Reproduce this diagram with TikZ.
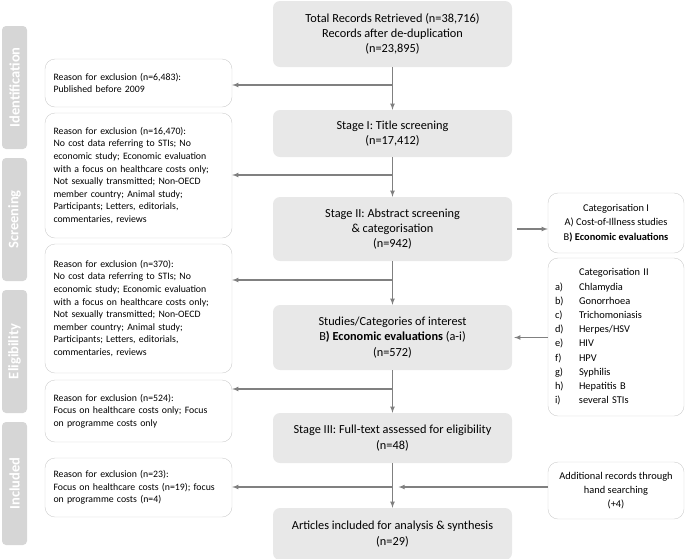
\documentclass[tikz,border=0pt]{standalone}
\usepackage{fontspec}
\setmainfont{Carlito}
\usetikzlibrary{calc}
\usetikzlibrary{shapes,arrows}

\definecolor{stagefill}{RGB}{232,232,232}
\definecolor{phasefill}{RGB}{214,214,214}
\definecolor{boxedge}{RGB}{205,205,205}
\definecolor{flowgrey}{RGB}{128,128,128}

\begin{document}
\begin{tikzpicture}[x=1pt,y=-1pt,
    stage/.style={fill=stagefill,rounded corners=7pt,minimum width=239pt,inner sep=0pt,align=center,font=\fontsize{12.3}{15.3}\selectfont},
    excl/.style={draw=boxedge,fill=white,rounded corners=10pt,text width=170pt,inner xsep=8.5pt,inner ysep=0pt,align=left,font=\fontsize{9.8}{12.6}\selectfont},
    cat/.style={draw=boxedge,fill=white,rounded corners=10pt,minimum width=136pt,inner sep=0pt,align=center,font=\fontsize{10.4}{14.2}\selectfont},
    phase/.style={fill=phasefill,rounded corners=4pt,minimum width=123pt,minimum height=25pt,inner sep=0pt,rotate=90,text=white,font=\fontsize{14.5}{16}\selectfont\bfseries},
    flow/.style={draw=flowgrey,line width=1.1pt,-latex}]
    \useasboundingbox (0,0) rectangle (685,558);
    % phases
    \node[phase] (Ident) at (14.5,87.5) {Identification};
    \node[phase] (Screen) at (14.5,219.5) {Screening};
    \node[phase] (Elig) at (14.5,351.5) {Eligibility};
    \node[phase] (Incl) at (14.5,483.5) {Included};
    % main stages
    \node[stage,minimum height=66pt] (S1) at (392.5,34) {Total Records Retrieved (n=38,716)\\Records after de-duplication\\(n=23,895)};
    \node[stage,minimum height=47pt] (S2) at (392.5,133.5) {Stage I: Title screening\\(n=17,412)};
    \node[stage,minimum height=64pt] (S3) at (392.5,229) {Stage II: Abstract screening\\\& categorisation\\(n=942)};
    \node[stage,minimum height=65pt] (S4) at (392.5,337.5) {Studies/Categories of interest\\B\textbf{) Economic evaluations} (a-i)\\(n=572)};
    \node[stage,minimum height=50pt] (S5) at (392.5,438) {Stage III: Full-text assessed for eligibility\\(n=48)};
    \node[stage,minimum height=52pt] (S6) at (392.5,534) {Articles included for analysis \& synthesis\\(n=29)};
    % exclusions
    \node[excl,minimum height=48pt] (X1) at (138.5,83) {Reason for exclusion (n=6,483):\\Published before 2009};
    \node[excl,minimum height=125pt] (X2) at (138.5,175.5) {Reason for exclusion (n=16,470):\\No cost data referring to STIs; No\\economic study; Economic evaluation\\with a focus on healthcare costs only;\\Not sexually transmitted; Non-OECD\\member country; Animal study;\\Participants; Letters, editorials,\\commentaries, reviews};
    \node[excl,minimum height=129pt] (X3) at (138.5,308.5) {Reason for exclusion (n=370):\\No cost data referring to STIs; No\\economic study; Economic evaluation\\with a focus on healthcare costs only;\\Not sexually transmitted; Non-OECD\\member country; Animal study;\\Participants; Letters, editorials,\\commentaries, reviews};
    \node[excl,minimum height=62pt] (X4) at (138.5,411) {Reason for exclusion (n=524):\\Focus on healthcare costs only; Focus\\on programme costs only};
    \node[excl,minimum height=59pt] (X5) at (138.5,487.5) {Reason for exclusion (n=23):\\Focus on healthcare costs (n=19); focus\\on programme costs (n=4)};
    % categories and extra records
    \node[cat,minimum height=60pt] (C1) at (616,223) {Categorisation I\\A) Cost-of-Illness studies\\B\textbf{) Economic evaluations}};
    \node[cat,minimum height=158pt,text width=122pt,inner xsep=7pt,align=left] (C2) at (616,337) {%
      \begin{tabular}{@{}p{24pt}@{}l@{}}
        & Categorisation II\\
        a) & Chlamydia\\
        b) & Gonorrhoea\\
        c) & Trichomoniasis\\
        d) & Herpes/HSV\\
        e) & HIV\\
        f) & HPV\\
        g) & Syphilis\\
        h) & Hepatitis B\\
        i) & several STIs
      \end{tabular}};
    \node[cat,minimum height=57pt] (Extra) at (616,490.5) {Additional records through\\hand searching\\(+4)};
    % branch points on the main line
    \coordinate (b1) at (392.5,85);
    \coordinate (b2) at (392.5,175);
    \coordinate (b3) at (392.5,280);
    \coordinate (b4) at (392.5,389);
    \coordinate (b5) at (392.5,487);
    % main flow
    \draw[flow] (S1.south) -- (S2.north);
    \draw[flow] (S2.south) -- (S3.north);
    \draw[flow] (S3.south) -- (S4.north);
    \draw[flow] (S4.south) -- (S5.north);
    \draw[flow] (S5.south) -- (S6.north);
    % exclusions
    \draw[flow] (b1) -- (b1 -| X1.east);
    \draw[flow] (b2) -- (b2 -| X2.east);
    \draw[flow] (b3) -- (b3 -| X3.east);
    \draw[flow] (b4) -- (b4 -| X4.east);
    \draw[flow] (b5) -- (b5 -| X5.east);
    % side links
    \draw[flow,shorten <=5pt] (S3.east) -- (S3.east -| C1.west);
    \draw[flow,shorten >=2pt] (C2.west |- S4.east) -- (S4.east);
    \draw[flow,shorten >=6pt] (Extra.west |- b5) -- (b5);
\end{tikzpicture}
\end{document}
